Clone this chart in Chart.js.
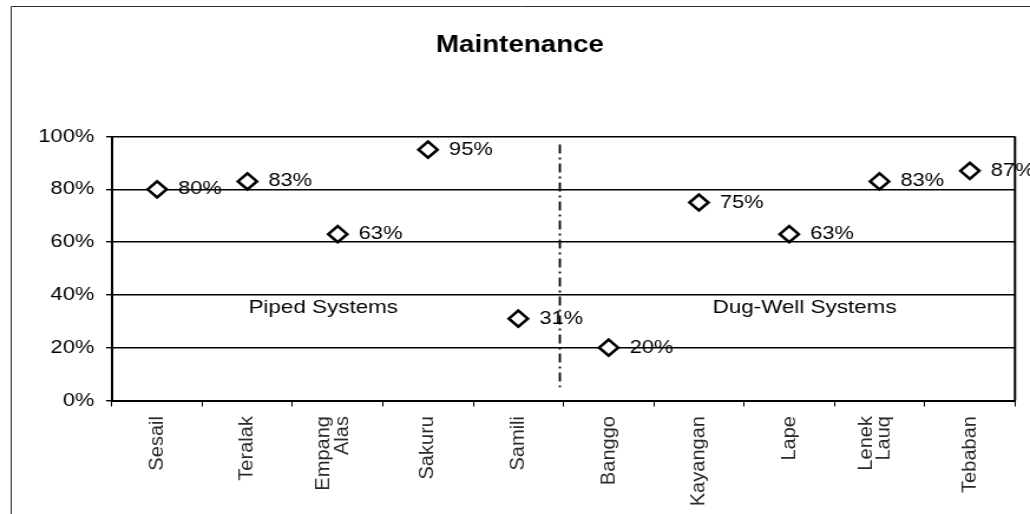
<!DOCTYPE html>
<html>
<head>
<meta charset="utf-8">
<script src="https://cdn.jsdelivr.net/npm/chart.js@4/dist/chart.umd.min.js"></script>
<style>
    html, body { margin: 0; padding: 0; background: #fff; overflow: hidden; }
    /* the reference is stretched sideways, so the whole canvas is too */
    #wrap { width: 873px; height: 514px; transform: scaleX(1.1798); transform-origin: 0 0; }
</style>
</head>
<body>
<div id="wrap"><canvas id="makeChart" width="873" height="514"></canvas></div>
<script>
// data
const villages = ['Sesail', 'Teralak', ['Empang', 'Alas'], 'Sakuru', 'Samili',
    'Banggo', 'Kayangan', 'Lape', ['Lenek', 'Lauq'], 'Tebaban'];
const maintenance = [80, 83, 63, 95, 31, 20, 75, 63, 83, 87];
const yTickValues = [0, 20, 40, 60, 80, 100];
const groupNames = ['Piped Systems', 'Dug-Well Systems'];
const chartTitle = 'Maintenance';

const STRETCH = 1030 / 873;
const FONT = "'Liberation Sans', Arial, sans-serif";

// where the group names and the split line sit (category / percent units)
const groupAt = [[1.84, 35], [7.17, 35]];
const splitAt = 4.46;

const extras = {
    id: 'extras',
    beforeDraw: (chart) => {
        const ctx = chart.ctx;
        ctx.save();
        // outer frame of the chart object
        ctx.strokeStyle = '#333';
        ctx.lineWidth = 1;
        ctx.beginPath();
        ctx.moveTo(9.5, chart.height);
        ctx.lineTo(9.5, 6.5);
        ctx.lineTo(chart.width, 6.5);
        ctx.stroke();
        // title
        ctx.fillStyle = '#000';
        ctx.font = 'bold 23.5px ' + FONT;
        ctx.textAlign = 'center';
        ctx.textBaseline = 'middle';
        ctx.fillText(chartTitle, chart.width / 2 + 4.2, 46);
        ctx.restore();
    },
    afterDatasetsDraw: (chart) => {
        const ctx = chart.ctx;
        const xs = chart.scales.x;
        const ys = chart.scales.y;
        const area = chart.chartArea;
        ctx.save();

        // dash-dot divider
        const dx = xs.getPixelForValue(splitAt);
        ctx.strokeStyle = '#000';
        ctx.lineWidth = 1.8;
        ctx.setLineDash([9, 4, 2, 4]);
        ctx.beginPath();
        ctx.moveTo(dx, ys.getPixelForValue(97));
        ctx.lineTo(dx, ys.getPixelForValue(5));
        ctx.stroke();
        ctx.setLineDash([]);

        // value labels
        ctx.fillStyle = '#000';
        ctx.font = '18.5px ' + FONT;
        ctx.textAlign = 'left';
        ctx.textBaseline = 'middle';
        const meta = chart.getDatasetMeta(0);
        meta.data.forEach((pt, i) => {
            ctx.fillText(maintenance[i] + '%', pt.x + 17.8, pt.y);
        });

        // group names
        ctx.font = '19px ' + FONT;
        ctx.textAlign = 'center';
        groupNames.forEach((name, i) => {
            ctx.fillText(name, xs.getPixelForValue(groupAt[i][0]), ys.getPixelForValue(groupAt[i][1]));
        });

        // x labels, rotated, undoing the sideways stretch
        ctx.font = '17px ' + FONT;
        ctx.textAlign = 'right';
        ctx.fillStyle = '#2a2a2a';
        villages.forEach((lab, i) => {
            const lines = Array.isArray(lab) ? lab : [lab];
            const x = xs.getPixelForValue(i);
            ctx.save();
            ctx.translate(x, area.bottom + 15.5);
            ctx.rotate(-Math.PI / 2);
            ctx.scale(STRETCH, 1);
            lines.forEach((line, j) => {
                let off = (j - (lines.length - 1) / 2) * 15.3;
                if (lines.length > 1) off -= 4;
                ctx.fillText(line, 0, off);
            });
            ctx.restore();
        });
        ctx.restore();
    },
    afterDraw: (chart) => {
        const ctx = chart.ctx;
        const area = chart.chartArea;
        ctx.save();
        ctx.strokeStyle = '#000';
        ctx.lineWidth = 2;
        ctx.beginPath();
        ctx.moveTo(area.right, area.top);
        ctx.lineTo(area.right, area.bottom);
        ctx.stroke();
        ctx.restore();
    }
};

const data = {
    labels: villages,
    datasets: [{
        label: 'Maintenance',
        data: maintenance,
        showLine: false,
        pointStyle: 'rectRot',
        pointRadius: 8,
        pointHoverRadius: 8,
        pointBorderWidth: 2.6,
        pointBorderColor: '#000',
        pointBackgroundColor: '#fff',
        clip: false
    }]
};

const config = {
    type: 'line',
    data: data,
    options: {
        responsive: false,
        animation: false,
        events: [],
        layout: {
            padding: { left: 0, right: 12.7, top: 136.5, bottom: 0 }
        },
        plugins: {
            legend: { display: false },
            tooltip: { enabled: false },
            title: { display: false }
        },
        scales: {
            x: {
                type: 'category',
                offset: true,
                grid: {
                    offset: true,
                    drawOnChartArea: false,
                    drawTicks: true,
                    tickLength: 6,
                    color: '#000',
                    lineWidth: 1
                },
                border: { display: true, color: '#000', width: 2 },
                ticks: { display: false },
                afterFit: (scale) => { scale.height = 113.5; }
            },
            y: {
                min: 0,
                max: 100,
                afterBuildTicks: (scale) => {
                    scale.ticks = yTickValues.map(v => ({ value: v }));
                },
                grid: {
                    color: '#000',
                    lineWidth: 1.4,
                    drawTicks: true,
                    tickLength: 5
                },
                border: { display: true, color: '#000', width: 2 },
                ticks: {
                    color: '#000',
                    padding: 10,
                    font: { family: FONT, size: 18.5 },
                    callback: (v) => v + '%'
                },
                afterFit: (scale) => { scale.width = 94.9; }
            }
        }
    },
    plugins: [extras]
};

const myChart = new Chart(document.getElementById('makeChart'), config);
</script>
</body>
</html>
